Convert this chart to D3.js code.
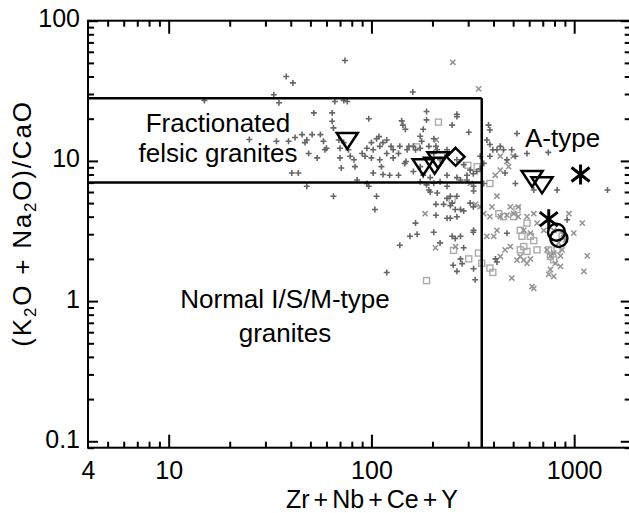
<!DOCTYPE html>
<html>
<head>
<meta charset="utf-8">
<script src="https://cdn.jsdelivr.net/npm/d3@7"></script>
<style>
  html, body { margin: 0; padding: 0; background: #fff; }
  svg { display: block; }
</style>
</head>
<body>
<div class="canvas"></div>
<script>
// tick labels
const xTicks = [4, 10, 100, 1000];
const yTicks = [0.1, 1, 10, 100];

// field boundaries (Zr+Nb+Ce+Y, (K2O+Na2O)/CaO)
const fgX = 350;
const fgYTop = 28;
const fgYLow = 7;

// dark grey plus signs
const plusPts = [
  [74,52],[38,40],[41,36],[33,29.6],[35,26],[15,27],[66,26.5],[73,27],[76,26.5],[160,31],
  [52,22],[64,22],[97,20],[64,19.2],[65,17.2],[141,19.3],[143,18],[187,22.5],[187,19.6],[264,21.5],
  [264,20.7],[250,18],[302,16],[174,15],[177,13.8],[203,14.4],[192,12.7],[208,12.7],[236,12],[211,12],
  [165,12],[153,12.7],[25,14.2],[34,13.8],[39,13.8],[42,14.7],[45.5,15.4],[48,14.1],[51,15.4],[56,15.4],
  [58,13.8],[47,13.5],[60,12.3],[49,11.3],[54,10.5],[59,12],[69,14.1],[70,12.3],[73,13.5],[77,12],
  [78.6,10.8],[82,10.2],[90,11.3],[95,12.3],[100,13.5],[106,14.4],[109,14.9],[110,12.7],[114,13.5],[119,14.1],
  [125,12.7],[128,12],[136,11.3],[138,12.7],[146,9.6],[110,10.2],[112,9.1],[102,8.2],[123,7.9],[136,7.9],
  [71,8.9],[85,7.3],[95,6.9],[97,6.6],[40.5,8.2],[43.6,8.2],[48,6.6],[65,5.6],[106,5.6],[104,4.5],
  [114,8.0],[161,8.4],[180,7.9],[187,6.75],[203,6.93],[218,7.1],[236,6.6],[264,7.6],[296,7.3],[319,6.6],
  [192,6.2],[211,5.9],[236,5.4],[264,5.6],[319,6.1],[208,4.9],[227,4.9],[245,4.8],[259,4.5],[285,4.4],
  [236,3.9],[208,4.1],[165,3.6],[168,3.0],[319,3.2],[138,2.5],[218,2.6],[250,2.9],[259,2.8],[285,2.4],
  [253,1.8],[280,1.85],[264,1.63],[319,1.7],[119,1.6],[325,1.42],[174,9.1],[148,9.9],[70,10.5],[100,10.5],
  [83,9.1],[93,10.8],[102,12],
  [378,18],[384,16.6],[371,14.1],[384,13.1],[397,12],[358,9.6],[384,10.8],[522,15.7],[492,12],[513,10.8],
  [466,10.2],[448,12],[432,12.7],[416,12],[585,11.3],[632,6.2],[824,6.2],[513,6.9],[456,8.2],[466,3.05],
  [409,2.0],[416,1.9],[1460,6.2],[923,3.8],[745,11.5],
  [119,11.3],[128,10.5],[150,12],[161,12.7],[174,12.3],[203,11.3],[218,10.2],[236,11],[264,10.2],[285,9.4],
  [307,8.6],[331,8.4],[344,8.8],[344,10.8],[174,7.1],[195,7.6],[236,7.9],[275,7.3],[296,7.9],[318,8.1],
  [358,6.9],[195,6.0],[245,5.6],[250,5.0],[275,4.5],[307,5.0],[318,4.7],[264,4.0],[245,3.9],[155,2.9],
  [203,3.1],[275,2.9],[318,3.1],[275,2.0],[147,16.8],[180,16.8]
];

// light grey crosses
const crossPts = [
  [252,50.5],[209,14.1],[184,4.2],[207,2.4],[326,4.9],[338,32.6],[432,10.8],[475,9.1],[500,10.8],[466,9.9],
  [307,6.9],[416,5.6],[393,4.7],[344,4.7],[358,4.2],[384,4.0],[432,4.0],[466,4.1],[416,3.2],[401,2.9],
  [503,4.2],[530,4.0],[585,4.0],[632,4.2],[656,3.6],[564,3.2],[608,3.05],[708,3.2],[793,3.2],[883,3.0],
  [942,4.2],[1096,3.6],[996,3.05],[906,2.74],[839,2.6],[735,2.32],[763,2.1],[793,2.2],[856,2.1],[808,1.86],
  [763,1.68],[749,1.55],[793,1.5],[856,1.77],[872,2.32],[1160,2.1],[1117,1.63],[620,1.27],[632,1.23],[492,1.46],
  [564,1.96],[585,1.86],[608,2.0],[522,1.96],[542,2.08],[484,2.45],[456,2.32],[432,2.08],[260,2.45],[371,2.9],
  [484,4.7],[530,4.7],[432,8.6],[408,7.9]
];

// light grey open squares
const squarePts = [
  [214,18.9],[167,12.6],[250,5.3],[254,2.3],[302,2.0],[187,1.4],[337,2.2],[299,9.3],[332,9.1],[384,6.9],
  [425,4.2],[448,4.0],[503,4.0],[522,4.5],[585,3.6],[542,3.2],[553,2.9],[608,2.9],[632,2.7],[656,2.32],
  [564,2.45],[542,2.32],[585,2.26],[749,2.32],[793,1.97],[763,2.08],[824,2.32],[350,1.86],[384,1.72],[397,1.6],
  [872,2.9]
];

// black symbols
const trianglePts = [[76,14],[180,9.1],[205,9.3],[213,10.2],[620,7.5],[694,6.75]];
const diamondPts = [[260,10.7]];
const asteriskPts = [[1075,8.0],[749,3.84]];
const circlePts = [[818,3.1],[840,2.8]];

const font = 'Arial, "Liberation Sans", sans-serif';

const svg = d3.select('.canvas')
    .append('svg')
        .attr('width', 629)
        .attr('height', 513)
        .style('font-family', font);

const margin = {top: 20.7, left: 88};
const graphWidth = 542.7;
const graphHeight = 427;

const graph = svg.append('g')
    .attr('transform', `translate(${margin.left}, ${margin.top})`);

const x = d3.scaleLog().domain([4, 1900]).range([0, graphWidth]);
const y = d3.scaleLog().domain([0.09, 100]).range([graphHeight, 0]);

const xMinor = x.ticks().filter(d => !xTicks.includes(d));
const yMinor = y.ticks().filter(d => !yTicks.includes(d));

const tidy = g => {
    g.select('.domain').remove();
    g.attr('font-family', font).attr('font-size', 25);
    g.selectAll('line').attr('stroke', '#000').attr('stroke-width', 2);
    g.selectAll('text').attr('fill', '#000');
};

// bottom axis
graph.append('g')
    .attr('transform', `translate(0, ${graphHeight})`)
    .call(d3.axisBottom(x).tickValues(xTicks).tickSize(-13).tickPadding(14).tickFormat(d3.format('d')))
    .call(tidy)
    .call(g => g.selectAll('.tick').filter(d => d === 4).select('line').remove());
graph.append('g')
    .attr('transform', `translate(0, ${graphHeight})`)
    .call(d3.axisBottom(x).tickValues(xMinor).tickSize(-6).tickFormat(''))
    .call(tidy);

// top axis
graph.append('g')
    .call(d3.axisTop(x).tickValues(xTicks.slice(1)).tickSize(-13).tickFormat(''))
    .call(tidy);
graph.append('g')
    .call(d3.axisTop(x).tickValues(xMinor).tickSize(-6).tickFormat(''))
    .call(tidy);

// left axis
graph.append('g')
    .call(d3.axisLeft(y).tickValues(yTicks).tickSize(-10).tickPadding(8).tickFormat(d3.format('')))
    .call(tidy)
    .call(g => g.selectAll('text').attr('dy', '0.24em'));
graph.append('g')
    .call(d3.axisLeft(y).tickValues(yMinor).tickSize(-6).tickFormat(''))
    .call(tidy);

// right axis
graph.append('g')
    .attr('transform', `translate(${graphWidth}, 0)`)
    .call(d3.axisRight(y).tickValues(yTicks).tickSize(-10).tickFormat(''))
    .call(tidy);
graph.append('g')
    .attr('transform', `translate(${graphWidth}, 0)`)
    .call(d3.axisRight(y).tickValues(yMinor).tickSize(-6).tickFormat(''))
    .call(tidy);

// frame
graph.append('rect')
    .attr('width', graphWidth)
    .attr('height', graphHeight)
    .attr('fill', 'none')
    .attr('stroke', '#000')
    .attr('stroke-width', 2);

// small grey symbols
graph.selectAll('.sq')
    .data(squarePts)
    .enter()
    .append('rect')
        .attr('class', 'sq')
        .attr('x', d => x(d[0]) - 3)
        .attr('y', d => y(d[1]) - 3)
        .attr('width', 6)
        .attr('height', 6)
        .attr('fill', 'none')
        .attr('stroke', '#ababab')
        .attr('stroke-width', 1.4);

graph.selectAll('.cross')
    .data(crossPts)
    .enter()
    .append('path')
        .attr('class', 'cross')
        .attr('transform', d => `translate(${x(d[0])}, ${y(d[1])})`)
        .attr('d', 'M-2.6,-2.6L2.6,2.6M-2.6,2.6L2.6,-2.6')
        .attr('stroke', '#939393')
        .attr('stroke-width', 1.5);

graph.selectAll('.plus')
    .data(plusPts)
    .enter()
    .append('path')
        .attr('class', 'plus')
        .attr('transform', d => `translate(${x(d[0])}, ${y(d[1])})`)
        .attr('d', 'M-3,0H3M0,-3V3')
        .attr('stroke', '#666')
        .attr('stroke-width', 1.6);

// field boundaries
const bounds = [
    [[4, fgYTop], [fgX, fgYTop]],
    [[4, fgYLow], [fgX, fgYLow]],
    [[fgX, fgYTop], [fgX, 0.09]]
];
graph.selectAll('.bound')
    .data(bounds)
    .enter()
    .append('line')
        .attr('x1', d => x(d[0][0]))
        .attr('y1', d => y(d[0][1]))
        .attr('x2', d => x(d[1][0]))
        .attr('y2', d => y(d[1][1]))
        .attr('stroke', '#000')
        .attr('stroke-width', 2.5);

// large black symbols
const big = graph.append('g')
    .attr('fill', 'none')
    .attr('stroke', '#000')
    .attr('stroke-width', 2.5);

big.selectAll('.tri')
    .data(trianglePts)
    .enter()
    .append('path')
        .attr('transform', d => `translate(${x(d[0])}, ${y(d[1])})`)
        .attr('d', 'M-10.5,-7.5L10.5,-7.5L0,8.5Z');

big.selectAll('.dia')
    .data(diamondPts)
    .enter()
    .append('path')
        .attr('transform', d => `translate(${x(d[0])}, ${y(d[1])})`)
        .attr('d', 'M0,-9L9,0L0,9L-9,0Z');

big.selectAll('.ast')
    .data(asteriskPts)
    .enter()
    .append('path')
        .attr('transform', d => `translate(${x(d[0])}, ${y(d[1])})`)
        .attr('d', 'M0,-10V10M-9,-7L9,7M-9,7L9,-7')
        .attr('stroke-width', 3);

big.selectAll('.circ')
    .data(circlePts)
    .enter()
    .append('circle')
        .attr('cx', d => x(d[0]))
        .attr('cy', d => y(d[1]))
        .attr('r', 8.5);

// field labels
const label = (tx, ty, txt, anchor) => svg.append('text')
    .attr('x', tx).attr('y', ty)
    .attr('text-anchor', anchor || 'middle')
    .attr('font-size', 26)
    .attr('fill', '#000')
    .text(txt);

label(218, 131.7, 'Fractionated');
label(218, 161.7, 'felsic granites');
label(525, 147, 'A-type', 'start');
label(285, 308, 'Normal I/S/M-type');
label(285, 342, 'granites');

// x title
const xt = svg.append('text')
    .attr('x', 372).attr('y', 507.5)
    .attr('text-anchor', 'middle')
    .attr('font-size', 25);
['Zr', '+', 'Nb', '+', 'Ce', '+', 'Y'].forEach((s, i) => {
    xt.append('tspan').attr('dx', i ? 4 : 0).text(s);
});

// y title
const yt = svg.append('text')
    .attr('transform', 'translate(31, 223.5) rotate(-90)')
    .attr('text-anchor', 'middle')
    .attr('font-size', 26)
    .attr('letter-spacing', 1.8);
yt.append('tspan').text('(K');
yt.append('tspan').attr('font-size', 17).attr('dy', 5).text('2');
yt.append('tspan').attr('dy', -5).text('O + Na');
yt.append('tspan').attr('font-size', 17).attr('dy', 5).text('2');
yt.append('tspan').attr('dy', -5).text('O)/CaO');
</script>
</body>
</html>
